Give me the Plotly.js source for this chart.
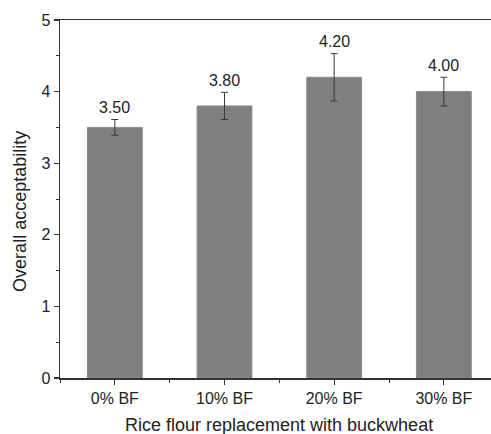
<!DOCTYPE html>
<html>
<head>
<meta charset="utf-8">
<script src="https://cdn.plot.ly/plotly-3.0.1.min.js"></script>
<style>html,body{margin:0;padding:0;background:#fff;}#chart{width:491px;height:434px;}</style>
</head>
<body>
<div id="chart"></div>
<script>
const categories = ["0% BF", "10% BF", "20% BF", "30% BF"];
const values = [3.50, 3.80, 4.20, 4.00];
const errors = [0.11, 0.19, 0.33, 0.20];
const labels = ["3.50", "3.80", "4.20", "4.00"];
const yTicks = [0, 1, 2, 3, 4, 5];

const xs = categories.map((_, i) => i);
const font = "'Liberation Sans', Arial, sans-serif";

const trace = {
  type: "bar",
  x: xs,
  y: values,
  width: 0.5,
  marker: {color: "#7f7f7f", line: {color: "#8c8c8c", width: 1}},
  error_y: {type: "data", array: errors, visible: true, color: "#3a3a3a", thickness: 1, width: 3.5},
  hoverinfo: "skip"
};

const annotations = values.map((v, i) => ({
  x: xs[i], y: v + errors[i], xref: "x", yref: "y",
  text: labels[i], showarrow: false, yanchor: "middle", yshift: 12,
  font: {family: font, size: 16, color: "#222"}
}));
annotations.push({
  x: 1.5, y: 0, xref: "x", yref: "paper", text: "Rice flour replacement with buckwheat",
  showarrow: false, yanchor: "middle", yshift: -47,
  font: {family: font, size: 18, color: "#222"}
});
annotations.push({
  x: 0, y: 2.32, xref: "paper", yref: "y", text: "Overall acceptability",
  showarrow: false, textangle: -90, xanchor: "center", xshift: -40,
  font: {family: font, size: 18, color: "#222"}
});

const layout = {
  width: 491, height: 434,
  margin: {l: 60, r: 0, t: 20, b: 56},
  paper_bgcolor: "#fff", plot_bgcolor: "#fff",
  font: {family: font, size: 16, color: "#222"},
  showlegend: false,
  xaxis: {
    range: [-0.5, 3.43], tickvals: xs, ticktext: categories,
    showline: true, linecolor: "#333", linewidth: 1.5, mirror: true,
    ticks: "outside", ticklen: 5, tickwidth: 1.2, tickcolor: "#333",
    minor: {tick0: 0.5, dtick: 1, ticks: "outside", ticklen: 3, tickwidth: 1, tickcolor: "#333"},
    showgrid: false, zeroline: false, fixedrange: true,
    tickfont: {family: font, size: 16, color: "#222"}
  },
  yaxis: {
    range: [0, 5], tickvals: yTicks,
    showline: true, linecolor: "#333", linewidth: 1.5, mirror: false,
    ticks: "outside", ticklen: 5, tickwidth: 1.2, tickcolor: "#333",
    minor: {tick0: 0, dtick: 0.5, ticks: "outside", ticklen: 3, tickwidth: 1, tickcolor: "#333"},
    showgrid: false, zeroline: false, fixedrange: true,
    tickfont: {family: font, size: 16, color: "#222"}
  },
  annotations: annotations
};

Plotly.newPlot("chart", [trace], layout, {displayModeBar: false, staticPlot: true});
</script>
</body>
</html>
